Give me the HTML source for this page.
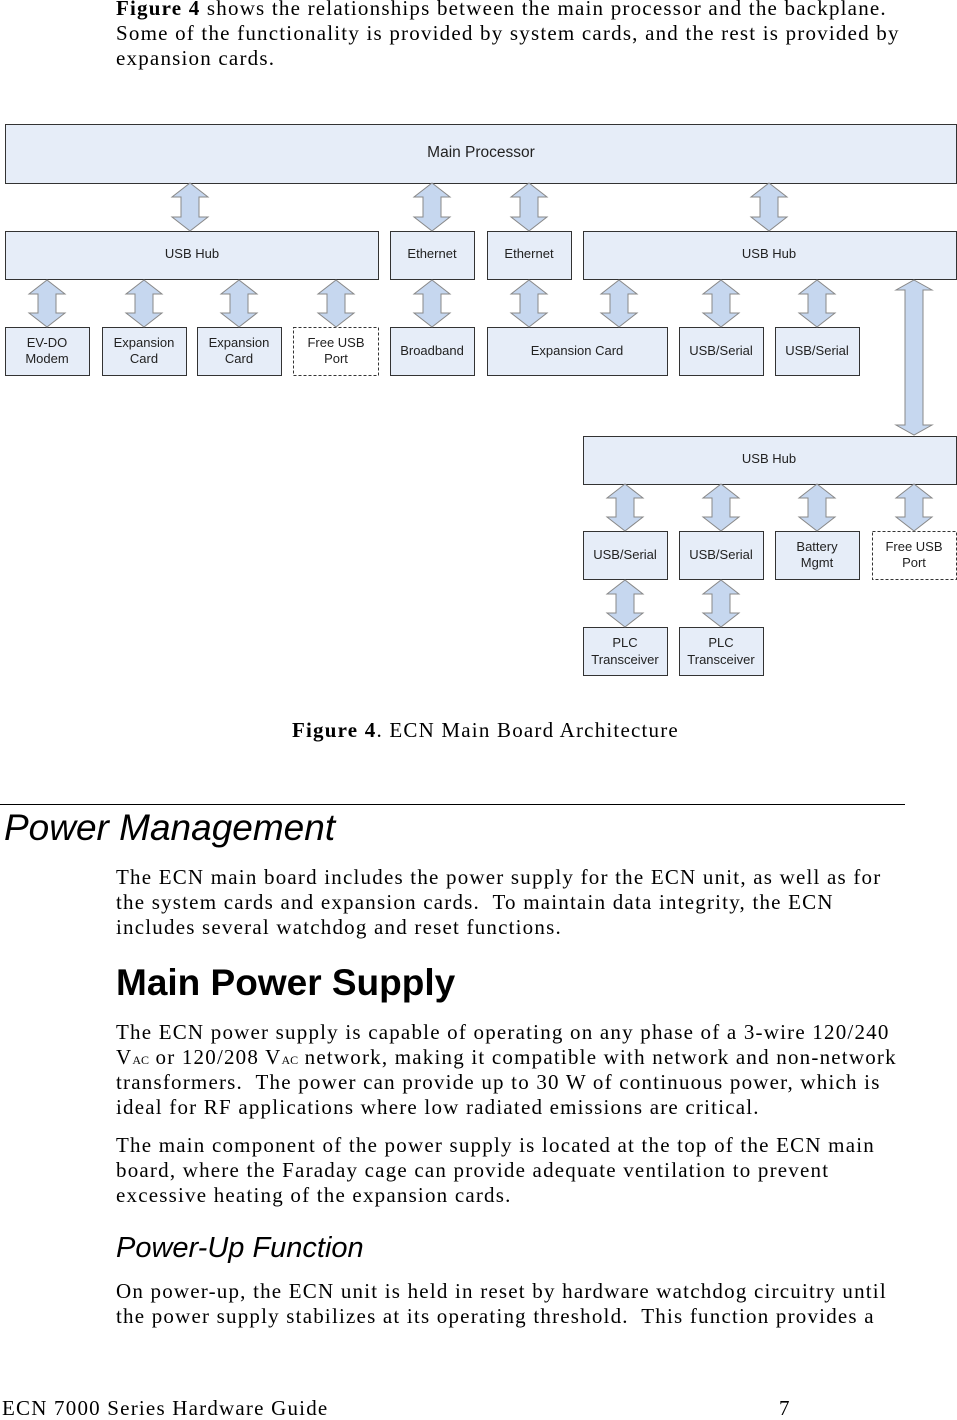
<!DOCTYPE html>
<html><head><meta charset="utf-8"><style>
body{margin:0;width:957px;height:1415px;position:relative;background:#fff;overflow:hidden}
.t{position:absolute;left:116px;font-family:"Liberation Serif",serif;font-size:21px;letter-spacing:1.2px;line-height:24px;white-space:nowrap;color:#000}
.h{position:absolute;font-family:"Liberation Sans",sans-serif;white-space:nowrap;color:#000}
sub{font-size:12px;vertical-align:baseline;letter-spacing:0}
svg{position:absolute;left:0;top:0}
svg text{font-family:"Liberation Sans",sans-serif;font-size:13px;fill:#222;text-anchor:middle}
</style></head><body>
<div class="t" style="top:-4px"><b>Figure 4</b> shows the relationships between the main processor and the backplane.</div>
<div class="t" style="top:21px">Some of the functionality is provided by system cards, and the rest is provided by</div>
<div class="t" style="top:46px">expansion cards.</div>

<svg width="957" height="700" viewBox="0 0 957 700">
<g fill="#e6edf8" stroke="#333" stroke-width="1">
<rect x="5.5" y="124.5" width="951" height="59"/>
<rect x="5.5" y="231.5" width="373" height="48"/>
<rect x="390.5" y="231.5" width="84" height="48"/>
<rect x="487.5" y="231.5" width="84" height="48"/>
<rect x="583.5" y="231.5" width="373" height="48"/>
<rect x="5.5" y="327.5" width="84" height="48"/>
<rect x="102.5" y="327.5" width="84" height="48"/>
<rect x="197.5" y="327.5" width="84" height="48"/>
<rect x="293.5" y="327.5" width="85" height="48" fill="#fff" stroke-dasharray="3,2"/>
<rect x="390.5" y="327.5" width="84" height="48"/>
<rect x="487.5" y="327.5" width="180" height="48"/>
<rect x="679.5" y="327.5" width="84" height="48"/>
<rect x="775.5" y="327.5" width="84" height="48"/>
<rect x="583.5" y="436.5" width="373" height="48"/>
<rect x="583.5" y="531.5" width="84" height="48"/>
<rect x="679.5" y="531.5" width="84" height="48"/>
<rect x="775.5" y="531.5" width="84" height="48"/>
<rect x="872.5" y="531.5" width="84" height="48" fill="#fff" stroke-dasharray="3,2"/>
<rect x="583.5" y="627.5" width="84" height="48"/>
<rect x="679.5" y="627.5" width="84" height="48"/>
</g>
<g fill="#c6d7ef" stroke="#888" stroke-width="1">
<polygon points="190,183 208,197 199,197 199,217 208,217 190,231 172,217 181,217 181,197 172,197"/>
<polygon points="432,183 450,197 441,197 441,217 450,217 432,231 414,217 423,217 423,197 414,197"/>
<polygon points="529,183 547,197 538,197 538,217 547,217 529,231 511,217 520,217 520,197 511,197"/>
<polygon points="769,183 787,197 778,197 778,217 787,217 769,231 751,217 760,217 760,197 751,197"/>
<polygon points="47,280 65,294 56,294 56,313 65,313 47,327 29,313 38,313 38,294 29,294"/>
<polygon points="144,280 162,294 153,294 153,313 162,313 144,327 126,313 135,313 135,294 126,294"/>
<polygon points="239,280 257,294 248,294 248,313 257,313 239,327 221,313 230,313 230,294 221,294"/>
<polygon points="336,280 354,294 345,294 345,313 354,313 336,327 318,313 327,313 327,294 318,294"/>
<polygon points="432,280 450,294 441,294 441,313 450,313 432,327 414,313 423,313 423,294 414,294"/>
<polygon points="529,280 547,294 538,294 538,313 547,313 529,327 511,313 520,313 520,294 511,294"/>
<polygon points="619,280 637,294 628,294 628,313 637,313 619,327 601,313 610,313 610,294 601,294"/>
<polygon points="721,280 739,294 730,294 730,313 739,313 721,327 703,313 712,313 712,294 703,294"/>
<polygon points="817,280 835,294 826,294 826,313 835,313 817,327 799,313 808,313 808,294 799,294"/>
<polygon points="914,280 932,290 923,290 923,425 932,425 914,435 896,425 905,425 905,290 896,290"/>
<polygon points="625,484 643,498 634,498 634,517 643,517 625,531 607,517 616,517 616,498 607,498"/>
<polygon points="721,484 739,498 730,498 730,517 739,517 721,531 703,517 712,517 712,498 703,498"/>
<polygon points="817,484 835,498 826,498 826,517 835,517 817,531 799,517 808,517 808,498 799,498"/>
<polygon points="914,484 932,498 923,498 923,517 932,517 914,531 896,517 905,517 905,498 896,498"/>
<polygon points="625,580 643,594 634,594 634,613 643,613 625,627 607,613 616,613 616,594 607,594"/>
<polygon points="721,580 739,594 730,594 730,613 739,613 721,627 703,613 712,613 712,594 703,594"/>
</g>
<text x="481" y="157" style="font-size:15.5px">Main Processor</text>
<text x="192" y="258">USB Hub</text>
<text x="432" y="258">Ethernet</text>
<text x="529" y="258">Ethernet</text>
<text x="769" y="258">USB Hub</text>
<text x="47" y="347">EV-DO</text><text x="47" y="363">Modem</text>
<text x="144" y="347">Expansion</text><text x="144" y="363">Card</text>
<text x="239" y="347">Expansion</text><text x="239" y="363">Card</text>
<text x="336" y="347">Free USB</text><text x="336" y="363">Port</text>
<text x="432" y="355">Broadband</text>
<text x="577" y="355">Expansion Card</text>
<text x="721" y="355">USB/Serial</text>
<text x="817" y="355">USB/Serial</text>
<text x="769" y="463">USB Hub</text>
<text x="625" y="559">USB/Serial</text>
<text x="721" y="559">USB/Serial</text>
<text x="817" y="551">Battery</text><text x="817" y="567">Mgmt</text>
<text x="914" y="551">Free USB</text><text x="914" y="567">Port</text>
<text x="625" y="647">PLC</text><text x="625" y="664">Transceiver</text>
<text x="721" y="647">PLC</text><text x="721" y="664">Transceiver</text>
</svg>

<div class="t" style="top:718px;left:292px"><b>Figure 4</b>. ECN Main Board Architecture</div>
<div style="position:absolute;left:0;top:804px;width:905px;height:1px;background:#000"></div>
<div class="h" style="left:4px;top:807px;font-size:37px;font-style:italic">Power Management</div>
<div class="t" style="top:865px">The ECN main board includes the power supply for the ECN unit, as well as for</div>
<div class="t" style="top:890px">the system cards and expansion cards.&nbsp; To maintain data integrity, the ECN</div>
<div class="t" style="top:915px">includes several watchdog and reset functions.</div>
<div class="h" style="left:116px;top:962px;font-size:37px;font-weight:bold">Main Power Supply</div>
<div class="t" style="top:1020px">The ECN power supply is capable of operating on any phase of a 3-wire 120/240</div>
<div class="t" style="top:1045px">V<sub>AC</sub> or 120/208 V<sub>AC</sub> network, making it compatible with network and non-network</div>
<div class="t" style="top:1070px">transformers.&nbsp; The power can provide up to 30 W of continuous power, which is</div>
<div class="t" style="top:1095px">ideal for RF applications where low radiated emissions are critical.</div>
<div class="t" style="top:1133px">The main component of the power supply is located at the top of the ECN main</div>
<div class="t" style="top:1158px">board, where the Faraday cage can provide adequate ventilation to prevent</div>
<div class="t" style="top:1183px">excessive heating of the expansion cards.</div>
<div class="h" style="left:116px;top:1232px;font-size:29px;font-style:italic">Power-Up Function</div>
<div class="t" style="top:1279px">On power-up, the ECN unit is held in reset by hardware watchdog circuitry until</div>
<div class="t" style="top:1304px">the power supply stabilizes at its operating threshold.&nbsp; This function provides a</div>
<div class="t" style="top:1396px;left:2px">ECN 7000 Series Hardware Guide</div>
<div class="t" style="top:1396px;left:779px">7</div>
</body></html>
